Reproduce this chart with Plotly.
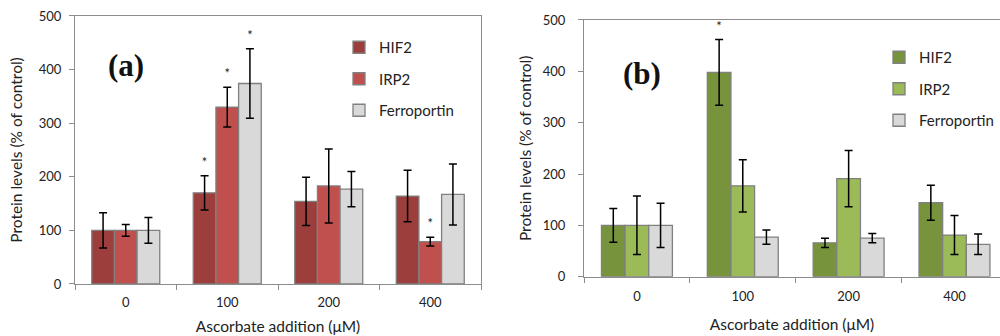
import plotly.graph_objects as go

categories = ["0", "100", "200", "400"]
series_names = ["HIF2", "IRP2", "Ferroportin"]

# Panel (a)
a_hif2 = [100, 170, 154, 164]
a_hif2_err = [33, 32, 45, 48]
a_irp2 = [100, 330, 183, 79]
a_irp2_err = [11, 37, 69, 8]
a_ferro = [100, 374, 177, 167]
a_ferro_err = [24, 65, 33, 57]
a_sig = {"HIF2": ["100"], "IRP2": ["100", "400"], "Ferroportin": ["100"]}

# Panel (b)
b_hif2 = [100, 398, 66, 144]
b_hif2_err = [33, 64, 9, 34]
b_irp2 = [100, 177, 191, 81]
b_irp2_err = [57, 51, 55, 38]
b_ferro = [100, 77, 75, 63]
b_ferro_err = [43, 14, 9, 20]
b_sig = {"HIF2": ["100"], "IRP2": [], "Ferroportin": []}

STAR_PAD = 11  # gap between error-bar top and asterisk, data units

a_colors = ["#9B3E3C", "#C0504D", "#D9D9D9"]
b_colors = ["#77933C", "#9BBB59", "#D9D9D9"]

FONT = "Lato, 'Open Sans', sans-serif"
AXIS_GRAY = "#8C8C8C"

fig = go.Figure()

panels = [
    ("x", "y", "legend", [a_hif2, a_irp2, a_ferro], [a_hif2_err, a_irp2_err, a_ferro_err], a_colors, a_sig),
    ("x2", "y2", "legend2", [b_hif2, b_irp2, b_ferro], [b_hif2_err, b_irp2_err, b_ferro_err], b_colors, b_sig),
]

for xa, ya, leg, vals, errs, cols, sig in panels:
    for i, name in enumerate(series_names):
        fig.add_trace(go.Bar(
            x=categories, y=vals[i], name=name, xaxis=xa, yaxis=ya,
            legend=leg, legendgroup=f"{leg}-{name}", offsetgroup=str(i),
            marker=dict(color=cols[i], line=dict(color="#808080", width=1.3)),
            error_y=dict(type="data", array=errs[i], visible=True,
                         color="black", thickness=1.5, width=4),
        ))
    for i, name in enumerate(series_names):
        cats = sig[name]
        if not cats:
            continue
        sy = [vals[i][categories.index(c)] + errs[i][categories.index(c)] + STAR_PAD for c in cats]
        fig.add_trace(go.Scatter(
            x=cats, y=sy, mode="text", text=["*"] * len(cats),
            textposition="top center", textfont=dict(size=13, color="#222", family=FONT),
            xaxis=xa, yaxis=ya, offsetgroup=str(i), showlegend=False,
            cliponaxis=False, hoverinfo="skip",
        ))

ax_common = dict(
    showline=True, linecolor=AXIS_GRAY, linewidth=1.3, mirror=True,
    ticks="outside", ticklen=5, tickcolor=AXIS_GRAY, tickwidth=1,
    showgrid=False, zeroline=False, automargin=False,
    tickfont=dict(family=FONT, size=13, color="#222"),
)

TITLE_SIZE = 15.5
XT = "Ascorbate addition (μM)"
YT = "Protein levels (% of control)"

fig.update_layout(
    width=1000, height=336,
    margin=dict(l=0, r=0, t=0, b=0, autoexpand=False),
    paper_bgcolor="white", plot_bgcolor="white",
    barmode="group", bargap=0.33, bargroupgap=0,
    scattermode="group", scattergap=0.33,
    showlegend=True,
    font=dict(family=FONT, color="#222"),
    xaxis=dict(domain=[0.075, 0.481], anchor="y", type="category",
               tickson="boundaries", range=[-0.5, 3.5], ticklabelstandoff=6,
               title=dict(text=XT, font=dict(size=TITLE_SIZE), standoff=12),
               **ax_common),
    yaxis=dict(domain=[0.1548, 0.9524], anchor="x", range=[0, 500], dtick=100,
               ticklabelstandoff=5,
               title=dict(text=YT, font=dict(size=TITLE_SIZE), standoff=12),
               **ax_common),
    xaxis2=dict(domain=[0.584, 1.0], anchor="y2", type="category",
                tickson="boundaries", range=[-0.5, 3.43], ticklabelstandoff=8,
                title=dict(text=XT, font=dict(size=TITLE_SIZE), standoff=15),
                **ax_common),
    yaxis2=dict(domain=[0.1765, 0.9405], anchor="x2", range=[0, 500], dtick=100,
                ticklabelstandoff=10,
                title=dict(text=YT, font=dict(size=TITLE_SIZE), standoff=7),
                **ax_common),
    legend=dict(x=0.339, y=1 - 31 / 336, xanchor="left", yanchor="top",
                bgcolor="rgba(0,0,0,0)", font=dict(size=15, family=FONT, color="#222"),
                tracegroupgap=9, traceorder="grouped"),
    legend2=dict(x=0.879, y=1 - 41 / 336, xanchor="left", yanchor="top",
                 bgcolor="rgba(0,0,0,0)", font=dict(size=15, family=FONT, color="#222"),
                 tracegroupgap=9, traceorder="grouped"),
    annotations=[
        dict(text="<b>(a)</b>", x=126 / 1000, y=1 - 66 / 336, xref="paper", yref="paper",
             xanchor="center", yanchor="middle", showarrow=False,
             font=dict(family="Liberation Serif, Times New Roman, serif", size=31, color="#111")),
        dict(text="<b>(b)</b>", x=642 / 1000, y=1 - 73 / 336, xref="paper", yref="paper",
             xanchor="center", yanchor="middle", showarrow=False,
             font=dict(family="Liberation Serif, Times New Roman, serif", size=31, color="#111")),
    ],
)

fig.write_html("out.html", config={"displayModeBar": False},
               post_script="document.body.style.margin='0';")
